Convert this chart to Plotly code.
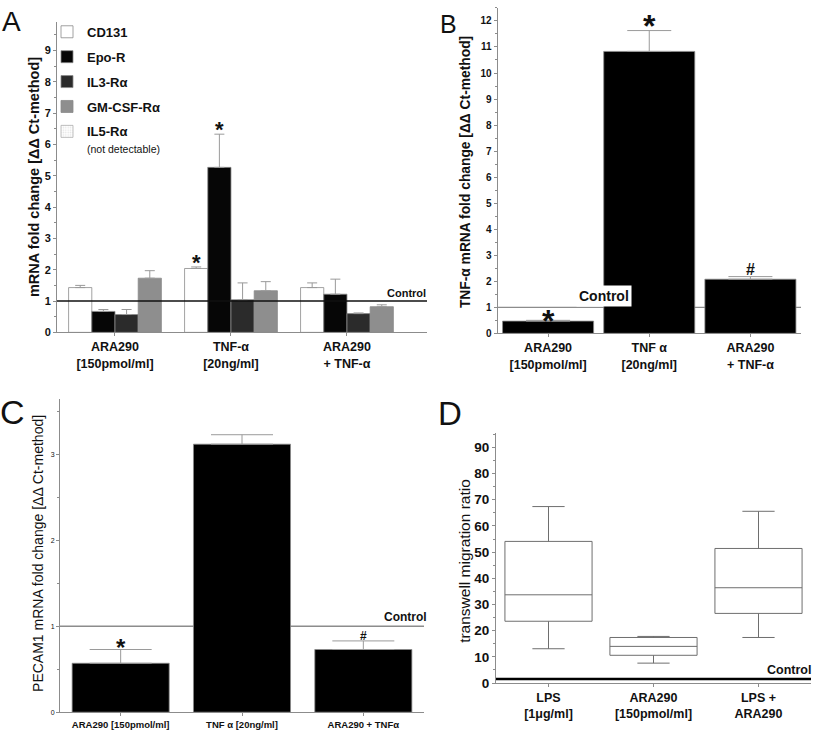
import plotly.graph_objects as go

W, H = 814, 740
FONT = "Liberation Sans, Arial, sans-serif"

# ---------------- data ----------------
# Panel A
a_labels = ["ARA290<br>[150pmol/ml]", "TNF-α<br>[20ng/ml]", "ARA290<br>+ TNF-α"]
cd131 = [1.43, 2.04, 1.43]
cd131_err = [0.07, 0.05, 0.15]
epo_r = [0.67, 5.27, 1.22]
epo_r_err = [0.06, 1.06, 0.48]
il3_r = [0.57, 1.04, 0.60]
il3_r_err = [0.16, 0.54, 0.02]
gm_csf_r = [1.73, 1.33, 0.82]
gm_csf_r_err = [0.24, 0.29, 0.06]

# Panel B
b_labels = ["ARA290<br>[150pmol/ml]", "TNF α<br>[20ng/ml]", "ARA290<br>+ TNF-α"]
tnf = [0.47, 10.83, 2.08]
tnf_err = [0.03, 0.80, 0.10]

# Panel C
c_labels = ["ARA290 [150pmol/ml]", "TNF α [20ng/ml]", "ARA290 + TNFα"]
pecam = [0.57, 3.12, 0.73]
pecam_err = [0.16, 0.11, 0.10]

# Panel D
d_labels = ["LPS<br>[1μg/ml]", "ARA290<br>[150pmol/ml]", "LPS +<br>ARA290"]
d_low = [13.1, 7.6, 17.4]
d_q1 = [23.6, 10.6, 26.6]
d_med = [33.7, 14.0, 36.4]
d_q3 = [54.1, 17.4, 51.4]
d_high = [67.4, 17.8, 65.6]

control = 1.0
control_d = 1.5


def dx(a, b):
    return [a / W, b / W]


def dy(top, bottom):
    return [1 - bottom / H, 1 - top / H]


def px(x):
    return x / W


def py(y):
    return 1 - y / H


pos = list(range(3))
fig = go.Figure()

# ---------- Panel A ----------
series = [
    ("CD131", cd131, cd131_err, "#ffffff"),
    ("Epo-R", epo_r, epo_r_err, "#060606"),
    ("IL3-Rα", il3_r, il3_r_err, "#2b2b2b"),
    ("GM-CSF-Rα", gm_csf_r, gm_csf_r_err, "#8e8e8e"),
]
for i, (name, vals, err, col) in enumerate(series):
    fig.add_trace(go.Bar(
        x=pos, y=vals, name=name, xaxis="x", yaxis="y",
        marker=dict(color=col, line=dict(color="#8a8a8a", width=0.8)),
        error_y=dict(type="data", array=err, arrayminus=[0] * 3, symmetric=False,
                     color="#9a9a9a", thickness=1, width=5),
        legendgroup=name, showlegend=True,
    ))
# legend-only entry (not detectable)
fig.add_trace(go.Bar(
    x=[None], y=[None], xaxis="x5", yaxis="y5",
    name="IL5-Rα<br><span style='font-size:10.5px;font-weight:normal'>(not detectable)</span>",
    marker=dict(color="#ffffff", line=dict(color="#b0b0b0", width=0.8),
                pattern=dict(shape=".", fgcolor="#c8c8c8", size=3, solidity=0.3)),
    legendgroup="il5", showlegend=True,
))

# ---------- Panel B ----------
fig.add_trace(go.Bar(
    x=pos, y=tnf, xaxis="x2", yaxis="y2", showlegend=False,
    marker=dict(color="#000000", line=dict(color="#8a8a8a", width=0.8)),
    error_y=dict(type="data", array=tnf_err, arrayminus=[0] * 3, symmetric=False,
                 color="#9a9a9a", thickness=1, width=22),
    width=0.9,
))

# ---------- Panel C ----------
fig.add_trace(go.Bar(
    x=pos, y=pecam, xaxis="x3", yaxis="y3", showlegend=False,
    marker=dict(color="#000000", line=dict(color="#8a8a8a", width=0.8)),
    error_y=dict(type="data", array=pecam_err, arrayminus=[0] * 3, symmetric=False,
                 color="#9a9a9a", thickness=1, width=31),
    width=0.8,
))

# ---------- Panel D ----------
fig.add_trace(go.Box(
    x=pos, q1=d_q1, median=d_med, q3=d_q3, lowerfence=d_low, upperfence=d_high,
    xaxis="x4", yaxis="y4", showlegend=False,
    fillcolor="#ffffff", line=dict(color="#6e6e6e", width=1),
    whiskerwidth=0.37, width=0.83, boxpoints=False,
))

# ---------- axes ----------
grey = "#8c8c8c"
common_x = dict(showline=True, linecolor=grey, linewidth=1, ticks="outside", ticklen=3,
                tickcolor=grey, showgrid=False, zeroline=False, fixedrange=True)
common_y = dict(showline=True, linecolor=grey, linewidth=1, ticks="outside", ticklen=3,
                tickcolor=grey, showgrid=False, zeroline=False, fixedrange=True)

layout_axes = dict(
    xaxis=dict(common_x, domain=dx(57, 427), range=[-0.5, 2.69], anchor="y",
               tickvals=pos, ticktext=a_labels,
               tickfont=dict(family=FONT, size=12.5, color="#111", weight="bold")),
    yaxis=dict(common_y, domain=dy(22, 336), range=[0, 9.92], anchor="x", dtick=1,
               tick0=0, tickfont=dict(family=FONT, size=11, color="#111", weight="bold"),
               minor=dict(ticks="outside", ticklen=2, tickcolor=grey, dtick=0.5)),
    xaxis2=dict(common_x, domain=dx(497.5, 801), range=[-0.5, 2.5], anchor="y2",
                tickvals=pos, ticktext=b_labels,
                tickfont=dict(family=FONT, size=12.5, color="#111", weight="bold")),
    yaxis2=dict(common_y, domain=dy(8, 337), range=[0, 12.5], anchor="x2", dtick=1,
                tick0=0, tickfont=dict(family=FONT, size=10, color="#111", weight="bold"),
                minor=dict(ticks="outside", ticklen=2, tickcolor=grey, dtick=0.5)),
    xaxis3=dict(common_x, domain=dx(60, 424), range=[-0.5, 2.5], anchor="y3",
                tickvals=pos, ticktext=c_labels,
                tickfont=dict(family=FONT, size=9.5, color="#111", weight="bold")),
    yaxis3=dict(common_y, domain=dy(403, 720), range=[0, 3.65], anchor="x3", dtick=1,
                tick0=0, tickfont=dict(family=FONT, size=7, color="#111"),
                minor=dict(ticks="outside", ticklen=2, tickcolor=grey, dtick=0.5)),
    xaxis4=dict(common_x, domain=dx(496, 811), range=[-0.5, 2.5], anchor="y4",
                tickvals=pos, ticktext=d_labels,
                tickfont=dict(family=FONT, size=12.5, color="#111", weight="bold")),
    yaxis4=dict(common_y, domain=dy(438, 690.5), range=[0, 95.4], anchor="x4", dtick=10,
                tick0=0, tickfont=dict(family=FONT, size=13.5, color="#111", weight="bold"),
                minor=dict(ticks="outside", ticklen=2, tickcolor=grey, dtick=5)),
    xaxis5=dict(visible=False, domain=[0, 0.01], anchor="y5"),
    yaxis5=dict(visible=False, domain=[0, 0.01], anchor="x5"),
)

# ---------- shapes (control lines) ----------
shapes = [
    dict(type="line", xref="x domain", yref="y", x0=0, x1=1, y0=control, y1=control,
         line=dict(color="#111111", width=1.5), layer="above"),
    dict(type="line", xref="x2 domain", yref="y2", x0=0, x1=1, y0=control, y1=control,
         line=dict(color="#8c8c8c", width=1.2), layer="below"),
    dict(type="line", xref="x3 domain", yref="y3", x0=0, x1=1, y0=control, y1=control,
         line=dict(color="#8c8c8c", width=1.5), layer="below"),
    dict(type="line", xref="x4 domain", yref="y4", x0=0, x1=1, y0=control_d, y1=control_d,
         line=dict(color="#000000", width=2.5), layer="above"),
]

# ---------- annotations ----------
def txt(text, x, y, size, xref="paper", yref="paper", xanchor="center", yanchor="middle",
        weight="bold", **kw):
    return dict(text=text, x=x, y=y, xref=xref, yref=yref, xanchor=xanchor,
                yanchor=yanchor, showarrow=False,
                font=dict(family=FONT, size=size, color="#111", weight=weight), **kw)

ann = []
# panel letters
ann.append(txt("A", px(11), py(22), 28, weight="normal"))
ann.append(txt("B", px(448.5), py(24), 25, weight="normal"))
ann.append(txt("C", px(12), py(417), 34, weight="normal"))
ann.append(txt("D", px(449.5), py(418), 33, weight="normal"))

# y titles
ann.append(txt("mRNA fold change [ΔΔ Ct-method]", px(34), py(179), 14.5, textangle=-90))
ann.append(txt("TNF-α mRNA fold change [ΔΔ Ct-method]", px(465), py(174), 13.8, textangle=-90))
ann.append(txt("PECAM1 mRNA fold change [ΔΔ Ct-method]", px(38), py(560), 14,
               weight="normal", textangle=-90))
ann.append(txt("transwell migration ratio", px(465), py(567), 15.5,
               weight="normal", textangle=-90))

# control labels
ann.append(txt("Control", px(385), control, 11, xref="paper", yref="y",
               xanchor="left", yanchor="bottom"))
ann.append(txt("Control", px(604), 1.45, 14, xref="paper", yref="y2", bgcolor="#ffffff",
               borderpad=2))
ann.append(txt("Control", px(382), control, 12, xref="paper", yref="y3",
               xanchor="left", yanchor="bottom"))
ann.append(txt("Control", px(765), control_d, 12.5, xref="paper", yref="y4",
               xanchor="left", yanchor="bottom"))

# significance marks
ann.append(txt("*", 1 - 0.3, cd131[1] + cd131_err[1], 22, xref="x", yref="y", yanchor="bottom",
               yshift=-10))
ann.append(txt("*", 1 - 0.1, epo_r[1] + epo_r_err[1], 22, xref="x", yref="y", yanchor="bottom",
               yshift=-10))
ann.append(txt("*", 0, tnf[0], 32, xref="x2", yref="y2", yanchor="bottom", yshift=-20))
ann.append(txt("*", 1, tnf[1] + tnf_err[1], 32, xref="x2", yref="y2", yanchor="bottom",
               yshift=-15))
ann.append(txt("#", 2, tnf[2] + tnf_err[2], 16, xref="x2", yref="y2", yanchor="bottom",
               yshift=-3))
ann.append(txt("*", 0, pecam[0] + pecam_err[0], 24, xref="x3", yref="y3", yanchor="bottom",
               yshift=-13))
ann.append(txt("#", 2, pecam[2] + pecam_err[2], 12, xref="x3", yref="y3", yanchor="bottom",
               yshift=-4))

fig.update_layout(
    width=W, height=H, margin=dict(l=0, r=0, t=0, b=0),
    paper_bgcolor="#ffffff", plot_bgcolor="rgba(0,0,0,0)",
    barmode="group", bargap=0.2, bargroupgap=0,
    font=dict(family=FONT, color="#111"),
    showlegend=True,
    legend=dict(x=px(47), y=py(17), xanchor="left", yanchor="top",
                bgcolor="rgba(0,0,0,0)", tracegroupgap=5, valign="top",
                font=dict(family=FONT, size=13, color="#111", weight="bold")),
    shapes=shapes, annotations=ann,
    **layout_axes,
)

fig.write_html("out.html", config={"displayModeBar": False},
               post_script="document.body.style.margin='0px';")
